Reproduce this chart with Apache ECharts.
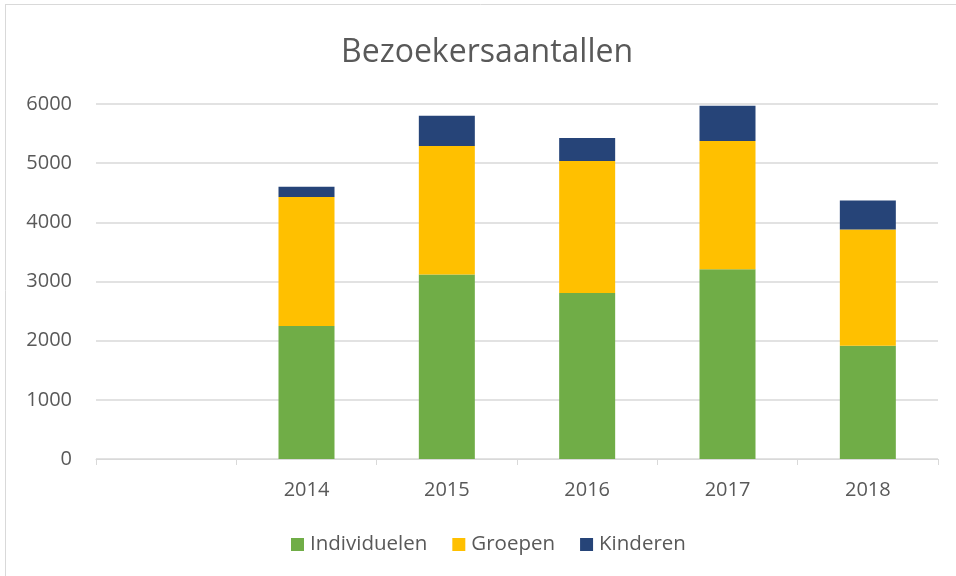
<!DOCTYPE html>
<html>
<head>
<meta charset="utf-8">
<script src="https://cdn.jsdelivr.net/npm/echarts@6/dist/echarts.min.js"></script>
<style>html,body{margin:0;padding:0;background:#fff}#c{width:956px;height:576px}</style>
</head>
<body>
<div id="c"></div>
<script>
var categories = ["", "2014", "2015", "2016", "2017", "2018"];
var individuelen = [null, 2250, 3120, 2805, 3205, 1915];
var groepen = [null, 2180, 2170, 2230, 2170, 1965];
var kinderen = [null, 170, 510, 390, 595, 490];
var yTicks = [0, 1000, 2000, 3000, 4000, 5000, 6000];

var FONT = "'Open Sans', sans-serif";
var chart = echarts.init(document.getElementById('c'));
function s(name, data, color) {
  return {name: name, type: 'bar', stack: 'total', data: data, barWidth: 56,
    itemStyle: {color: color}, emphasis: {disabled: true}};
}
chart.setOption({
  animation: false,
  textStyle: {fontFamily: FONT},
  title: {text: 'Bezoekersaantallen', left: 336, top: 32,
    textStyle: {fontFamily: FONT, fontSize: 32, fontWeight: 'normal', color: '#595959'}},
  legend: {left: 291, bottom: 21, padding: 0, itemWidth: 13, itemHeight: 13, itemGap: 25, icon: 'rect',
    textStyle: {fontFamily: FONT, fontSize: 20.5, color: '#595959', padding: [0, 0, 0, 1]},
    data: ['Individuelen', 'Groepen', 'Kinderen']},
  grid: {left: 96, right: 18, top: 104, bottom: 117},
  xAxis: {type: 'category', data: categories,
    axisLine: {lineStyle: {color: '#d9d9d9', width: 1}},
    axisTick: {show: true, length: 6, lineStyle: {color: '#d9d9d9'}},
    axisLabel: {fontFamily: FONT, fontSize: 20, color: '#595959', margin: 21}},
  yAxis: {type: 'value', min: yTicks[0], max: yTicks[yTicks.length - 1], interval: 1000,
    axisLine: {show: false}, axisTick: {show: false},
    axisLabel: {fontFamily: FONT, fontSize: 20, color: '#595959', margin: 24,
      formatter: function (v) { return String(v); }},
    splitLine: {lineStyle: {color: '#d9d9d9', width: 1.5}}},
  graphic: [
    {type: 'line', shape: {x1: 5.5, y1: 5, x2: 5.5, y2: 576}, style: {stroke: '#d9d9d9', lineWidth: 1}},
    {type: 'line', shape: {x1: 5, y1: 4.5, x2: 956, y2: 4.5}, style: {stroke: '#d9d9d9', lineWidth: 1}}
  ],
  series: [
    s('Individuelen', individuelen, '#70ad47'),
    s('Groepen', groepen, '#ffc000'),
    s('Kinderen', kinderen, '#264478')
  ]
});
</script>
</body>
</html>
